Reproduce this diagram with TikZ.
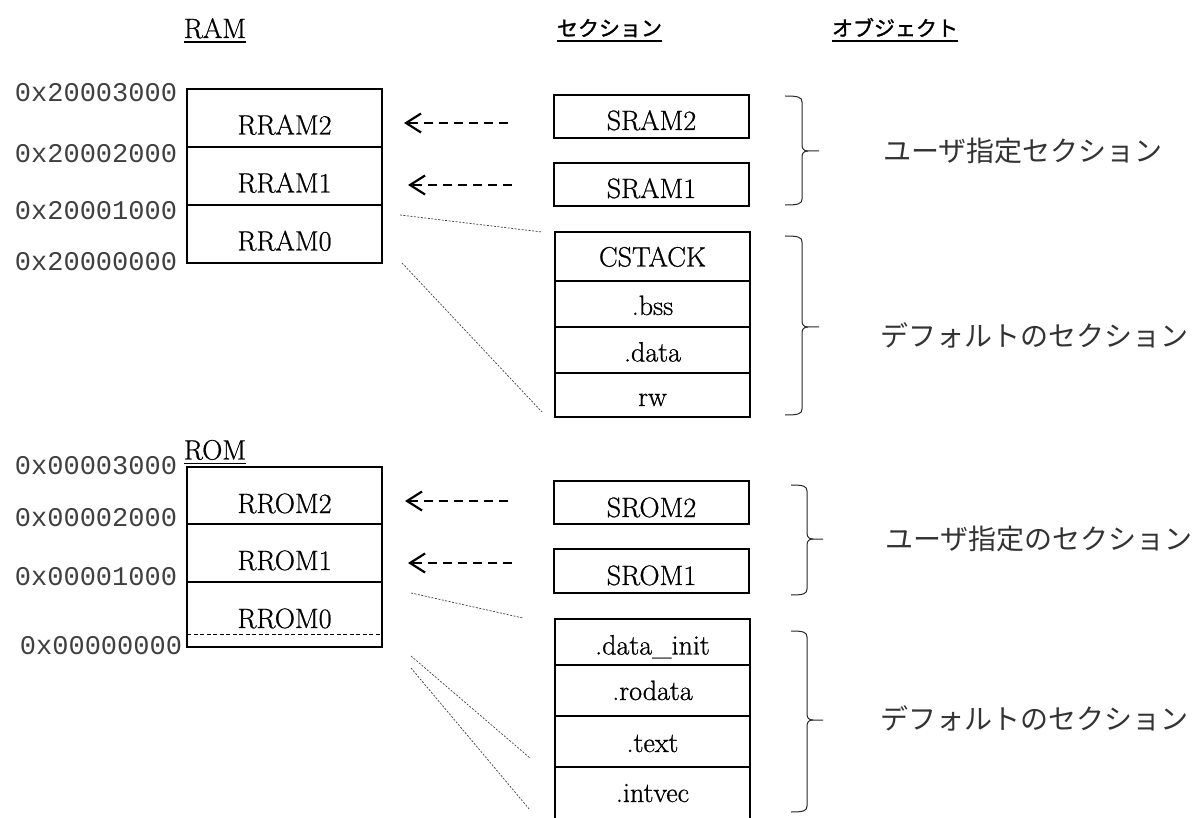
\documentclass[tikz,border=0pt]{standalone}
\usepackage{fontspec}
\setmainfont{Latin Modern Roman}[FakeBold=0.8]
\setmonofont{Liberation Mono}
\newfontfamily\cjk{Noto Sans CJK JP}
\newfontfamily\cjkb{Noto Sans CJK JP}[FakeBold=1.5]
\usetikzlibrary{arrows.meta}
\newcommand{\bracepath}[6]{%
  \draw[bracel] (#1,#4) .. controls (#2-4,#4) and (#2,#4+1) .. (#2,#4+6)
    -- (#2,#5-6) .. controls (#2,#5-2) and (#2+2,#5) .. (#2+6,#5) -- (#3,#5);
  \draw[bracel] (#2+6,#5) .. controls (#2+2,#5) and (#2,#5+2) .. (#2,#5+6)
    -- (#2,#6-6) .. controls (#2,#6-1) and (#2-4,#6) .. (#1,#6);
}
\begin{document}
\begin{tikzpicture}[x=1pt,y=-1pt,
  every node/.style={inner sep=0pt, outer sep=0pt},
  lat/.style={font=\fontsize{28}{32}\selectfont},
  cell/.style={draw=black, line width=1.2pt, minimum width=195pt, lat, text depth=0pt},
  hd/.style={font=\fontsize{28}{32}\selectfont},
  hdj/.style={font=\cjkb\fontsize{21}{26}\selectfont},
  uline/.style={line width=1.8pt},
  addr/.style={font=\ttfamily\fontsize{27}{32}\selectfont, text=black!75},
  jl/.style={font=\cjk\fontsize{28}{32}\selectfont, text=black!80},
  darrow/.style={line width=2.2pt, dash pattern=on 9pt off 6pt, -{Straight Barb[length=15pt,width=19pt,line width=2.2pt]}},
  dotl/.style={line width=0.7pt, dash pattern=on 2pt off 1.5pt, black!75},
  bracel/.style={line width=1pt, black!85},
  rdash/.style={line width=1pt, dash pattern=on 4pt off 2.5pt}
]
\useasboundingbox (0,0) rectangle (1195,818);

% headings
\node[hd, anchor=base] (hram) at (215,38) {RAM};
\draw[uline] ([yshift=-4pt]hram.base west) -- ([yshift=-4pt]hram.base east);
\node[hdj, anchor=base] (hsec) at (609.5,36) {セクション};
\draw[uline] ([yshift=-5pt]hsec.base west) -- ([yshift=-5pt]hsec.base east);
\node[hdj, anchor=base] (hobj) at (895,36) {オブジェクト};
\draw[uline] ([yshift=-5pt]hobj.base west) -- ([yshift=-5pt]hobj.base east);
\node[hd, anchor=base] (hrom) at (215,459.5) {ROM};
\draw[uline] ([yshift=-4pt]hrom.base west) -- ([yshift=-4pt]hrom.base east);

% RAM column
\node[cell, minimum height=58pt, text height=33pt] (rram2) at (284.5,118) {RRAM2};
\node[cell, minimum height=58pt, text height=33pt] (rram1) at (284.5,176) {RRAM1};
\node[cell, minimum height=58pt, text height=33pt] (rram0) at (284.5,234) {RRAM0};

\node[addr, anchor=base east] (ra3) at (177,101.5) {0x20003000};
\node[addr, anchor=base east] (ra2) at (177,163) {0x20002000};
\node[addr, anchor=base east] (ra1) at (177,220) {0x20001000};
\node[addr, anchor=base east] (ra0) at (177,270.5) {0x20000000};

% RAM sections
\node[cell, minimum height=43pt, text height=27pt] (sram2) at (651.5,116.5) {SRAM2};
\node[cell, minimum height=43pt, text height=27pt] (sram1) at (651.5,184.5) {SRAM1};
\node[cell, minimum height=49pt, text height=20pt] (cstack) at (652.5,256.5) {CSTACK};
\node[cell, minimum height=46pt, text height=22pt] (bss) at (652.5,304) {.bss};
\node[cell, minimum height=46pt, text height=23pt] (data) at (652.5,350) {.data};
\node[cell, minimum height=44pt, text height=22pt] (rw) at (652.5,395) {rw};

% ROM column
\node[cell, minimum height=57pt, text height=35pt] (rrom2) at (284.5,495.5) {RROM2};
\node[cell, minimum height=58pt, text height=34pt] (rrom1) at (284.5,553) {RROM1};
\node[cell, minimum height=65pt, text height=27pt] (rrom0) at (284.5,614.5) {RROM0};
\coordinate (rdl) at (187,634);
\coordinate (rdr) at (382,634);
\draw[rdash] (rdl) -- (rdr);

\node[addr, anchor=base east] (oa3) at (177,475) {0x00003000};
\node[addr, anchor=base east] (oa2) at (177,526.5) {0x00002000};
\node[addr, anchor=base east] (oa1) at (177,585) {0x00001000};
\node[addr, anchor=base east] (oa0) at (182,654) {0x00000000};

% ROM sections
\node[cell, minimum height=43pt, text height=29pt] (srom2) at (651.5,502.5) {SROM2};
\node[cell, minimum height=44pt, text height=28pt] (srom1) at (651.5,571) {SROM1};
\node[cell, minimum height=46pt, text height=25pt] (dinit) at (652.5,642) {.data\_init};
\node[cell, minimum height=51pt, text height=19pt] (rodata) at (652.5,690.5) {.rodata};
\node[cell, minimum height=51pt, text height=21pt] (textsec) at (652.5,741.5) {.text};
\node[cell, minimum height=56pt, text height=14pt] (intvec) at (652.5,795) {.intvec};

% dashed arrows
\coordinate (a1s) at (508,123); \coordinate (a1e) at (404,123);
\coordinate (a2s) at (512,185); \coordinate (a2e) at (408,185);
\coordinate (a3s) at (508,501); \coordinate (a3e) at (405,501);
\coordinate (a4s) at (512,563); \coordinate (a4e) at (408,563);
\draw[darrow] (a1s) -- (a1e);
\draw[darrow] (a2s) -- (a2e);
\draw[darrow] (a3s) -- (a3e);
\draw[darrow] (a4s) -- (a4e);

% dotted lines
\coordinate (d1s) at (400,215); \coordinate (d1e) at (542,232);
\coordinate (d2s) at (402,263); \coordinate (d2e) at (542,412);
\coordinate (d3s) at (411,593); \coordinate (d3e) at (523,618);
\coordinate (d4s) at (411,656); \coordinate (d4e) at (530,758);
\coordinate (d5s) at (411,668); \coordinate (d5e) at (530,810);
\draw[dotl] (d1s) -- (d1e);
\draw[dotl] (d2s) -- (d2e);
\draw[dotl] (d3s) -- (d3e);
\draw[dotl] (d4s) -- (d4e);
\draw[dotl] (d5s) -- (d5e);

% braces
\bracepath{785}{802}{819}{96}{151}{205}
\bracepath{785}{802}{819}{236}{327}{415}
\bracepath{791}{807}{823}{485}{539}{595}
\bracepath{791}{807}{823}{631}{720}{812}

% labels
\node[jl, anchor=west] (ul1) at (883,151) {ユーザ指定セクション};
\node[jl, anchor=west] (dl1) at (880,335) {デフォルトのセクション};
\node[jl, anchor=west] (ul2) at (885,539) {ユーザ指定のセクション};
\node[jl, anchor=west] (dl2) at (880,718) {デフォルトのセクション};
\end{tikzpicture}
\end{document}
